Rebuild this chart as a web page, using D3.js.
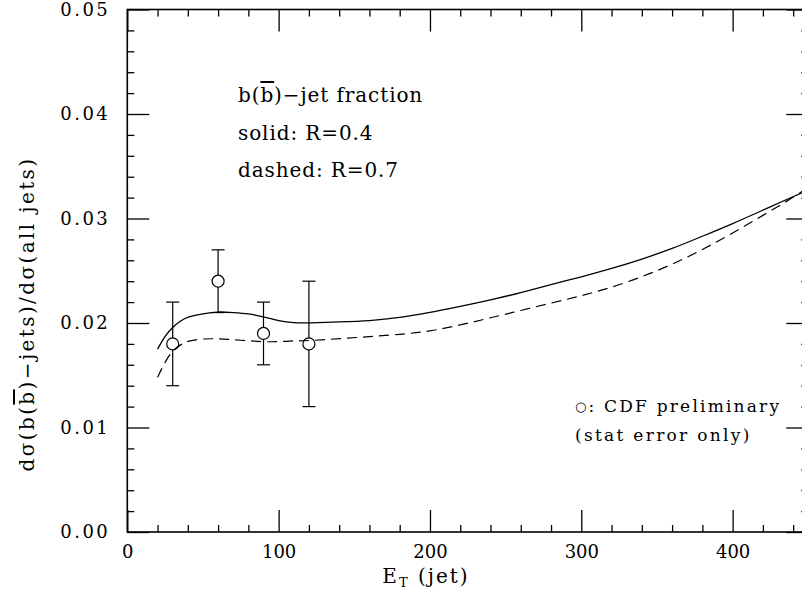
<!DOCTYPE html>
<html lang="en-US">
<head>
<meta charset="UTF-8">
<title>b-jet fraction</title>
<style>
  body {margin: 0; background: #fff;}
  svg text {font-family: "DejaVu Serif", serif; fill: #000;}
  .tick line {stroke: #000;}
</style>
</head>
<body>
<div id="viz"></div>
<script src="https://d3js.org/d3.v7.min.js"></script>
<script>

var width = 802,
    height = 595;

// theory curves: E_T (GeV) and fraction
var etGrid   = [20, 25, 30, 35, 40, 50, 60, 70, 80, 90, 100, 110, 120, 140, 160, 180, 200, 220, 240, 260, 280, 300, 320, 340, 360, 380, 400, 420, 440, 450];
var solidR04 = [0.0175, 0.0188, 0.0196, 0.0202, 0.0206, 0.0209, 0.0211, 0.0210, 0.0209, 0.0206, 0.0202, 0.0200, 0.0200, 0.0201, 0.0202, 0.0205, 0.0210, 0.0216, 0.0222, 0.0229, 0.0237, 0.0244, 0.0252, 0.0261, 0.0271, 0.0283, 0.0295, 0.0308, 0.0321, 0.0327];
var dashR07  = [0.0148, 0.0163, 0.0174, 0.0179, 0.0183, 0.0185, 0.0185, 0.0184, 0.0183, 0.0182, 0.0182, 0.0183, 0.0183, 0.0185, 0.0187, 0.0189, 0.0192, 0.0198, 0.0205, 0.0212, 0.0219, 0.0226, 0.0234, 0.0244, 0.0256, 0.0270, 0.0286, 0.0303, 0.0320, 0.0330];

// CDF preliminary points
var cdfEt  = [30, 60, 90, 120];
var cdfVal = [0.018, 0.024, 0.019, 0.018];
var cdfLo  = [0.014, 0.021, 0.016, 0.012];
var cdfHi  = [0.022, 0.027, 0.022, 0.024];

var xMajor = [0, 100, 200, 300, 400];
var yMajor = [0, 0.01, 0.02, 0.03, 0.04, 0.05];

var x = d3.scaleLinear().domain([0, 450]).range([127.3, 808.3]);
var y = d3.scaleLinear().domain([0, 0.05]).range([532, 9.5]);

var svg = d3.select("#viz").append("svg")
    .attr("width", width)
    .attr("height", height);

// frame
svg.append("rect")
    .attr("x", x(0)).attr("y", y(0.05))
    .attr("width", x(450) - x(0)).attr("height", y(0) - y(0.05))
    .attr("fill", "none").attr("stroke", "#000").attr("stroke-width", 1.6);

var xMinor = d3.range(0, 451, 20).filter(function(d) { return d % 100 !== 0; });
var yMinor = d3.range(0, 0.0501, 0.002).filter(function(d) { return Math.abs(d * 100 - Math.round(d * 100)) > 1e-6; });

function tickAxis(axis, tr, values, size, labels) {
    var g = svg.append("g").attr("transform", tr)
        .call(axis.tickValues(values).tickSizeInner(size).tickSizeOuter(0)
            .tickFormat(labels ? labels : ""));
    g.select(".domain").remove();
    g.selectAll(".tick line").attr("stroke-width", 1.3);
    return g;
}

// bottom
var bx = tickAxis(d3.axisBottom(x).tickPadding(13), "translate(0," + y(0) + ")", xMajor, -22, d3.format("d"));
bx.selectAll("text").attr("font-size", 18).style("font-family", "DejaVu Serif");
tickAxis(d3.axisBottom(x), "translate(0," + y(0) + ")", xMinor, -7);
// top
tickAxis(d3.axisTop(x), "translate(0," + y(0.05) + ")", xMajor, -22);
tickAxis(d3.axisTop(x), "translate(0," + y(0.05) + ")", xMinor, -7);
// left
var ly = tickAxis(d3.axisLeft(y).tickPadding(17), "translate(" + x(0) + ",0)", yMajor, -22, d3.format(".2f"));
ly.selectAll("text").attr("font-size", 18).attr("letter-spacing", 2.5).style("font-family", "DejaVu Serif");
tickAxis(d3.axisLeft(y), "translate(" + x(0) + ",0)", yMinor, -7);
// right
tickAxis(d3.axisRight(y), "translate(" + x(450) + ",0)", yMajor, -22);
tickAxis(d3.axisRight(y), "translate(" + x(450) + ",0)", yMinor, -7);

// curves
var line = d3.line()
    .x(function(d) { return x(d[0]); })
    .y(function(d) { return y(d[1]); })
    .curve(d3.curveBasis);

var plot = svg.append("g");
plot.append("path")
    .datum(d3.zip(etGrid, solidR04))
    .attr("d", line)
    .attr("fill", "none").attr("stroke", "#000").attr("stroke-width", 1.3);
plot.append("path")
    .datum(d3.zip(etGrid, dashR07))
    .attr("d", line)
    .attr("fill", "none").attr("stroke", "#000").attr("stroke-width", 1.2)
    .attr("stroke-dasharray", "10,6");

// data points with error bars
var r = 6, cap = 6.5;
var pts = cdfEt.map(function(e, i) { return {x: e, v: cdfVal[i], lo: cdfLo[i], hi: cdfHi[i]}; });
var pg = plot.selectAll("g.pt").data(pts).enter().append("g").attr("class", "pt");
pg.append("line")
    .attr("x1", function(d) { return x(d.x); }).attr("x2", function(d) { return x(d.x); })
    .attr("y1", function(d) { return y(d.hi); }).attr("y2", function(d) { return y(d.v) - r; });
pg.append("line")
    .attr("x1", function(d) { return x(d.x); }).attr("x2", function(d) { return x(d.x); })
    .attr("y1", function(d) { return y(d.v) + r; }).attr("y2", function(d) { return y(d.lo); });
pg.append("line")
    .attr("x1", function(d) { return x(d.x) - cap; }).attr("x2", function(d) { return x(d.x) + cap; })
    .attr("y1", function(d) { return y(d.hi); }).attr("y2", function(d) { return y(d.hi); });
pg.append("line")
    .attr("x1", function(d) { return x(d.x) - cap; }).attr("x2", function(d) { return x(d.x) + cap; })
    .attr("y1", function(d) { return y(d.lo); }).attr("y2", function(d) { return y(d.lo); });
pg.selectAll("line").attr("stroke", "#000").attr("stroke-width", 1.2);
pg.append("circle")
    .attr("cx", function(d) { return x(d.x); })
    .attr("cy", function(d) { return y(d.v); })
    .attr("r", r)
    .attr("fill", "none").attr("stroke", "#000").attr("stroke-width", 1.2);

// annotations
var t1 = svg.append("text").attr("x", 238).attr("y", 102).attr("font-size", 20).attr("letter-spacing", 0.9);
t1.append("tspan").text("b(");
t1.append("tspan").style("text-decoration", "overline").text("b");
t1.append("tspan").text(")\u2212jet fraction");
svg.append("text").attr("x", 238).attr("y", 140).attr("font-size", 20).attr("letter-spacing", 0.9)
    .text("solid: R=0.4");
svg.append("text").attr("x", 238).attr("y", 177).attr("font-size", 20).attr("letter-spacing", 0.9)
    .text("dashed: R=0.7");

var lg = svg.append("text").attr("x", 575).attr("y", 412).attr("font-size", 17).attr("letter-spacing", 2.2);
lg.append("tspan").attr("font-size", 13).attr("dy", -1).text("\u25CB");
lg.append("tspan").attr("dy", 1).text(": CDF preliminary");
svg.append("text").attr("x", 575).attr("y", 441).attr("font-size", 17).attr("letter-spacing", 2.3)
    .text("(stat error only)");

// axis titles
var xt = svg.append("text").attr("x", 426).attr("y", 583).attr("text-anchor", "middle")
    .attr("font-size", 20).attr("letter-spacing", 2);
xt.append("tspan").text("E");
xt.append("tspan").attr("dy", 4).attr("font-size", 13).text("T");
xt.append("tspan").attr("dy", -4).text(" (jet)");

var yt = svg.append("text")
    .attr("transform", "translate(34,314) rotate(-90)")
    .attr("text-anchor", "middle").attr("font-size", 20).attr("letter-spacing", 2.4);
yt.append("tspan").text("d\u03C3(b(");
yt.append("tspan").style("text-decoration", "overline").text("b");
yt.append("tspan").text(")\u2212jets)/d\u03C3(all jets)");

</script>
</body>
</html>
